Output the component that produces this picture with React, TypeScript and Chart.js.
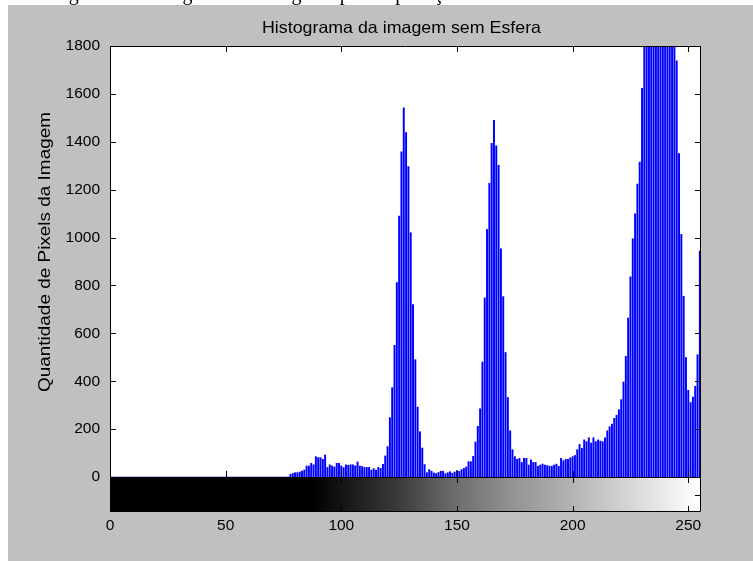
import React, { useEffect, useRef } from "react";
import { Chart, registerables } from "chart.js";

Chart.register(...registerables);

const TITLE = "Histograma da imagem sem Esfera";
const Y_LABEL = "Quantidade de Pixels da Imagem";
const CAPTION = "Figura 4 – Histograma da imagem após a aplicação do filtro";

const X_TICKS = [0, 50, 100, 150, 200, 250];
const Y_TICKS = [0, 200, 400, 600, 800, 1000, 1200, 1400, 1600, 1800];

// pixel count per gray level 0..255 (values above 1800 are clipped by the axis)
const PIXEL_COUNTS = [
  0, 0, 0, 0, 0, 0, 0, 0, 0, 0, 0, 0, 0, 0, 0, 0,
  0, 0, 0, 0, 0, 0, 0, 0, 0, 0, 0, 0, 0, 0, 0, 0,
  0, 0, 0, 0, 0, 0, 0, 0, 0, 0, 0, 0, 0, 0, 0, 0,
  0, 0, 0, 0, 0, 0, 0, 0, 0, 0, 0, 0, 0, 0, 0, 0,
  0, 0, 0, 0, 0, 0, 0, 0, 0, 0, 0, 0, 0, 0, 11, 15,
  18, 18, 21, 25, 29, 46, 46, 57, 51, 85, 81, 81, 74, 92, 40, 51,
  46, 42, 57, 57, 46, 39, 51, 49, 51, 51, 46, 63, 46, 44, 40, 40,
  40, 29, 35, 29, 40, 36, 53, 88, 127, 248, 373, 550, 812, 1090, 1358, 1542,
  1438, 1296, 1020, 720, 490, 292, 189, 121, 52, 18, 31, 24, 17, 14, 19, 24,
  24, 14, 18, 22, 16, 21, 27, 24, 31, 36, 42, 64, 64, 86, 146, 212,
  285, 480, 748, 1034, 1226, 1393, 1490, 1383, 1302, 953, 753, 520, 332, 193, 114, 85,
  74, 78, 61, 78, 78, 50, 72, 61, 61, 45, 50, 54, 50, 48, 45, 45,
  50, 54, 45, 78, 68, 74, 74, 80, 85, 90, 114, 136, 120, 155, 148, 164,
  142, 164, 148, 155, 150, 148, 164, 193, 210, 221, 245, 258, 281, 323, 397, 504,
  664, 836, 995, 1099, 1223, 1315, 1623, 1950, 2300, 2700, 3000, 3300, 3500, 3600, 3500, 3300,
  3100, 2800, 2500, 2200, 1950, 1738, 1351, 1013, 755, 499, 362, 311, 334, 379, 511, 944,
];

// gray colour bar under the histogram: gray level -> displayed intensity
const COLORBAR_LEVELS = [0, 88, 100, 125, 150, 175, 200, 225, 250, 255];
const COLORBAR_INTENSITY = [0, 0, 20, 60, 110, 148, 180, 214, 248, 255];

const FONT = '"Liberation Sans", Arial, sans-serif';

function fitText(
  ctx: CanvasRenderingContext2D,
  text: string,
  size: number,
  target: number
) {
  ctx.font = `${size}px ${FONT}`;
  const w = ctx.measureText(text).width;
  return target / w;
}

const matlabFrame = {
  id: "matlabFrame",
  beforeDraw(chart: any) {
    const { ctx, width, height, chartArea: a } = chart;
    ctx.save();
    ctx.fillStyle = "#ffffff";
    ctx.fillRect(0, 0, width, height);
    // clipped caption of the document above the figure
    ctx.save();
    ctx.beginPath();
    ctx.rect(0, 0, width, 5);
    ctx.clip();
    ctx.fillStyle = "#000000";
    ctx.font = '20px "Liberation Serif", "Times New Roman", serif';
    ctx.textBaseline = "alphabetic";
    ctx.textAlign = "left";
    ctx.fillText(CAPTION, 52, 0);
    ctx.restore();
    // figure background
    ctx.fillStyle = "#c0c0c0";
    ctx.fillRect(8, 5, width - 8, height - 5);
    // axes background
    ctx.fillStyle = "#ffffff";
    ctx.fillRect(a.left, a.top, a.right - a.left, a.bottom - a.top);
    ctx.restore();
  },
  afterDraw(chart: any) {
    const { ctx, chartArea: a } = chart;
    const xs = chart.scales.x;
    const ys = chart.scales.y;
    const tick = 6;
    ctx.save();

    const left = Math.round(a.left);
    const right = Math.round(a.right) - 1;
    const top = Math.round(a.top);
    const bottom = Math.round(a.bottom);

    // colour bar
    const cbTop = bottom;
    const cbBottom = bottom + 35;
    const x0 = xs.getPixelForValue(0);
    const x1 = xs.getPixelForValue(255);
    const grad = ctx.createLinearGradient(x0, 0, x1, 0);
    COLORBAR_LEVELS.forEach((lv, i) => {
      const g = COLORBAR_INTENSITY[i];
      grad.addColorStop(lv / 255, `rgb(${g},${g},${g})`);
    });
    ctx.fillStyle = grad;
    ctx.fillRect(left, cbTop, right - left + 1, cbBottom - cbTop);

    ctx.strokeStyle = "#000000";
    ctx.lineWidth = 1;
    ctx.beginPath();
    // axes box
    ctx.rect(left + 0.5, top + 0.5, right - left, bottom - top);
    // colour bar box
    ctx.rect(left + 0.5, cbTop + 0.5, right - left, cbBottom - cbTop - 1);
    // x ticks (inward) on axes and colour bar
    X_TICKS.forEach((v) => {
      const px = Math.round(xs.getPixelForValue(v)) + 0.5;
      ctx.moveTo(px, top);
      ctx.lineTo(px, top + tick);
      ctx.moveTo(px, bottom);
      ctx.lineTo(px, bottom - tick);
      ctx.moveTo(px, cbTop);
      ctx.lineTo(px, cbTop + tick);
      ctx.moveTo(px, cbBottom);
      ctx.lineTo(px, cbBottom - tick);
    });
    // y ticks (inward)
    Y_TICKS.forEach((v) => {
      const py = Math.round(ys.getPixelForValue(v)) + 0.5;
      ctx.moveTo(left, py);
      ctx.lineTo(left + tick, py);
      ctx.moveTo(right + 1, py);
      ctx.lineTo(right + 1 - tick, py);
    });
    const cbMid = Math.round((cbTop + cbBottom) / 2) + 0.5;
    ctx.moveTo(left, cbMid);
    ctx.lineTo(left + tick, cbMid);
    ctx.moveTo(right + 1, cbMid);
    ctx.lineTo(right + 1 - tick, cbMid);
    ctx.stroke();

    // title
    ctx.fillStyle = "#000000";
    ctx.textBaseline = "alphabetic";
    ctx.textAlign = "center";
    let sx = fitText(ctx, TITLE, 16.5, 279);
    ctx.save();
    ctx.translate(401.5, 33);
    ctx.scale(sx, 1);
    ctx.fillText(TITLE, 0, 0);
    ctx.restore();

    // y axis label
    sx = fitText(ctx, Y_LABEL, 16.5, 280);
    ctx.save();
    ctx.translate(50, 252);
    ctx.rotate(-Math.PI / 2);
    ctx.scale(sx, 1);
    ctx.fillText(Y_LABEL, 0, 0);
    ctx.restore();

    ctx.restore();
  },
};

export default function App() {
  const ref = useRef<HTMLCanvasElement | null>(null);

  useEffect(() => {
    document.body.style.margin = "0";
    const canvas = ref.current;
    if (!canvas) return;
    const chart = new Chart(canvas, {
      type: "bar",
      data: {
        datasets: [
          {
            data: PIXEL_COUNTS.map((count, level) => ({ x: level, y: count })),
            backgroundColor: "#0000ff",
            borderWidth: 0,
            barThickness: 1.3,
          },
        ],
      },
      options: {
        animation: false,
        responsive: false,
        devicePixelRatio: 1,
        layout: { padding: { left: 0, top: 46, right: 52, bottom: 0 } },
        plugins: {
          legend: { display: false },
          tooltip: { enabled: false },
          title: { display: false },
        },
        scales: {
          x: {
            type: "linear",
            min: 0,
            max: 255.5,
            offset: false,
            grid: { display: false, drawTicks: false },
            border: { display: false },
            afterBuildTicks: (s: any) => {
              s.ticks = X_TICKS.map((v) => ({ value: v }));
            },
            afterFit: (s: any) => {
              s.height = 84;
            },
            ticks: {
              autoSkip: false,
              maxRotation: 0,
              padding: 39,
              color: "#000000",
              font: { family: FONT, size: 15.5 },
              callback: (v: any) => String(v),
            },
          },
          y: {
            min: 0,
            max: 1800,
            grid: { display: false, drawTicks: false },
            border: { display: false },
            afterBuildTicks: (s: any) => {
              s.ticks = Y_TICKS.map((v) => ({ value: v }));
            },
            afterFit: (s: any) => {
              s.width = 110;
            },
            ticks: {
              autoSkip: false,
              padding: 10,
              color: "#000000",
              font: { family: FONT, size: 15.5 },
              callback: (v: any) => String(v),
            },
          },
        },
      },
      plugins: [matlabFrame],
    });
    return () => chart.destroy();
  }, []);

  return (
    <canvas
      ref={ref}
      width={753}
      height={561}
      style={{ display: "block", width: 753, height: 561 }}
    />
  );
}
